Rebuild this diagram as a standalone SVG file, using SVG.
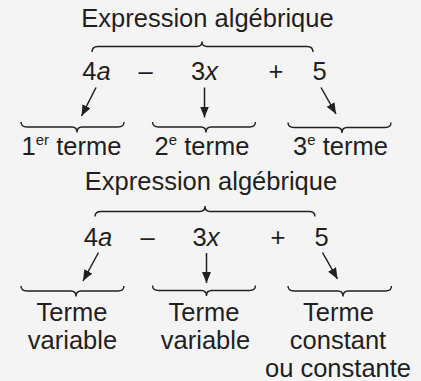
<svg xmlns="http://www.w3.org/2000/svg" width="421" height="381" viewBox="0 0 421 381">
<style>
text{font-family:"Liberation Sans",Arial,sans-serif;font-size:25.5px;fill:#231f20;text-anchor:middle}
.sup{font-size:15px}
.it{font-style:italic}
.br{fill:none;stroke:#231f20;stroke-width:1.4}
.ar{fill:none;stroke:#231f20;stroke-width:1.5}
</style>
<defs>
<marker id="ah" markerUnits="userSpaceOnUse" markerWidth="12" markerHeight="10" refX="11" refY="4.5" orient="auto">
<path d="M0,0 L11,4.5 L0,9 Z" fill="#231f20"/>
</marker>
</defs>
<rect width="421" height="381" fill="#f4f4f4"/>

<g id="top-diagram">
<g id="title1"><text x="207.5" y="27">Expression algébrique</text></g>
<g id="brace-top1"><path class="br" d="M92,52 Q92,46.5 98,46.5 H197 Q202,46.5 202,41.5 Q202,46.5 207,46.5 H307 Q313,46.5 313,52"/></g>
<g id="term1-expr"><text x="96.5" y="80">4<tspan class="it">a</tspan></text></g>
<g id="minus1"><text x="145.5" y="80">–</text></g>
<g id="term2-expr"><text x="204.5" y="80">3<tspan class="it">x</tspan></text></g>
<g id="plus1"><text x="276" y="80">+</text></g>
<g id="term3-expr"><text x="319.5" y="80">5</text></g>
<g id="brace1a"><path class="br" d="M21,122 Q21,127 27,127 H72 Q77,127 77,132.5 Q77,127 82,127 H118 Q124,127 124,122"/></g>
<g id="brace1b"><path class="br" d="M152.5,122 Q152.5,127 158.5,127 H201 Q206,127 206,132.5 Q206,127 211,127 H249.5 Q255.5,127 255.5,122"/></g>
<g id="brace1c"><path class="br" d="M288,122.5 Q288,127.5 294,127.5 H337 Q342,127.5 342,133 Q342,127.5 347,127.5 H385 Q391,127.5 391,122.5"/></g>
<g id="label1a"><text x="71.5" y="155">1<tspan class="sup" dy="-10">er</tspan><tspan dy="10"> terme</tspan></text></g>
<g id="label1b"><text x="202" y="155">2<tspan class="sup" dy="-10">e</tspan><tspan dy="10"> terme</tspan></text></g>
<g id="label1c"><text x="340.5" y="155">3<tspan class="sup" dy="-10">e</tspan><tspan dy="10"> terme</tspan></text></g>
</g>

<g id="bottom-diagram">
<g id="title2"><text x="211" y="190">Expression algébrique</text></g>
<g id="brace-top2"><path class="br" d="M95,216.5 Q95,211.5 101,211.5 H200 Q205,211.5 205,206 Q205,211.5 210,211.5 H309 Q315,211.5 315,216.5"/></g>
<g id="term1-expr2"><text x="98" y="246">4<tspan class="it">a</tspan></text></g>
<g id="minus2"><text x="147.5" y="246">–</text></g>
<g id="term2-expr2"><text x="206" y="246">3<tspan class="it">x</tspan></text></g>
<g id="plus2"><text x="278" y="246">+</text></g>
<g id="term3-expr2"><text x="321.5" y="246">5</text></g>
<g id="brace2a"><path class="br" d="M21,286 Q21,291 27,291 H71 Q76,291 76,296.5 Q76,291 81,291 H118 Q124,291 124,286"/></g>
<g id="brace2b"><path class="br" d="M152.5,285.5 Q152.5,290.5 158.5,290.5 H201.5 Q206.5,290.5 206.5,296 Q206.5,290.5 211.5,290.5 H249.5 Q255.5,290.5 255.5,285.5"/></g>
<g id="brace2c"><path class="br" d="M288,286 Q288,291 294,291 H338 Q343,291 343,296.5 Q343,291 348,291 H385.5 Q391.5,291 391.5,286"/></g>
<g id="label2a"><text x="72" y="320.5">Terme</text><text x="72.5" y="349">variable</text></g>
<g id="label2b"><text x="204" y="320.5">Terme</text><text x="205.5" y="349">variable</text></g>
<g id="label2c"><text x="338.5" y="320.5">Terme</text><text x="338" y="349">constant</text><text x="338" y="377">ou constante</text></g>
</g>

<g id="connectors">
<line class="ar" x1="96" y1="87.5" x2="81.5" y2="116" marker-end="url(#ah)"/>
<line class="ar" x1="204.5" y1="87.5" x2="204.5" y2="117.5" marker-end="url(#ah)"/>
<line class="ar" x1="321" y1="87.5" x2="336" y2="114" marker-end="url(#ah)"/>
<line class="ar" x1="98.5" y1="252.5" x2="83" y2="281" marker-end="url(#ah)"/>
<line class="ar" x1="206.5" y1="253" x2="206.5" y2="283" marker-end="url(#ah)"/>
<line class="ar" x1="322.5" y1="252.5" x2="337.5" y2="279" marker-end="url(#ah)"/>
</g>
</svg>
